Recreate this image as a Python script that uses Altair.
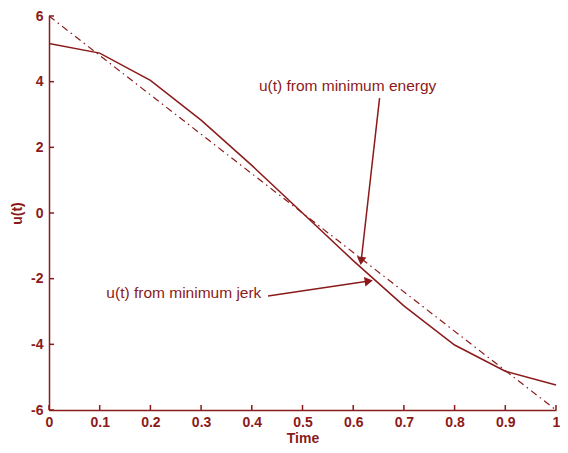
import math
import altair as alt
import pandas as pd

# ---- data ----
t = [0.0, 0.1, 0.2, 0.3, 0.4, 0.5, 0.6, 0.7, 0.8, 0.9, 1.0]
u_jerk = [5.16, 4.87, 4.04, 2.83, 1.45, 0.0, -1.45, -2.83, -4.02, -4.82, -5.24]
t_energy = [0.0, 1.0]
u_energy = [6.0, -6.0]
x_ticks = [0, 0.1, 0.2, 0.3, 0.4, 0.5, 0.6, 0.7, 0.8, 0.9, 1]
y_ticks = [-6, -4, -2, 0, 2, 4, 6]

ann_text = ["u(t) from minimum energy", "u(t) from minimum jerk"]
ann_tx = [0.589, 0.266]
ann_ty = [3.86, -2.44]
arrow_x0 = [0.652, 0.432]
arrow_y0 = [3.50, -2.53]
arrow_x1 = [0.616, 0.628]
arrow_y1 = [-1.42, -2.08]

W, H = 507, 394
RED = "#8b1a1a"
FONT = "Liberation Sans"

xs = alt.Scale(domain=[0, 1], nice=False)
ys = alt.Scale(domain=[-6, 6], nice=False)

jerk = pd.DataFrame({"t": t, "u": u_jerk})
energy = pd.DataFrame({"t": t_energy, "u": u_energy})

angles = []
for a, b, c, d in zip(arrow_x0, arrow_y0, arrow_x1, arrow_y1):
    dx = (c - a) * W
    dy = -(d - b) * H / 12.0
    angles.append(math.degrees(math.atan2(dx, -dy)) % 360)

arrows = pd.DataFrame({"x0": arrow_x0, "y0": arrow_y0, "x1": arrow_x1,
                       "y1": arrow_y1, "ang": angles})
texts = pd.DataFrame({"x": ann_tx, "y": ann_ty, "label": ann_text})

xt = pd.DataFrame({"x": x_ticks, "y0": -6, "y1": -6 + 5 * 12.0 / H})
yt = pd.DataFrame({"y": y_ticks, "x0": 0, "x1": 5.0 / W})

base_x = alt.X("t:Q", scale=xs, title="Time",
               axis=alt.Axis(values=x_ticks, ticks=False, grid=False,
                             labelExpr="datum.value == 0 ? '0' : datum.value == 1 ? '1' : format(datum.value, '.1f')"))
base_y = alt.Y("u:Q", scale=ys, title="u(t)",
               axis=alt.Axis(values=y_ticks, ticks=False, grid=False,
                             labelExpr="'' + datum.value"))

line_j = alt.Chart(jerk).mark_line(color=RED, strokeWidth=1.5).encode(x=base_x, y=base_y)
line_e = alt.Chart(energy).mark_line(color=RED, strokeWidth=1.2, strokeDash=[7, 4, 1.5, 4]).encode(
    x=alt.X("t:Q", scale=xs), y=alt.Y("u:Q", scale=ys))

xtick = alt.Chart(xt).mark_rule(color=RED, strokeWidth=1.5).encode(
    x=alt.X("x:Q", scale=xs), y=alt.Y("y0:Q", scale=ys), y2="y1:Q")
ytick = alt.Chart(yt).mark_rule(color=RED, strokeWidth=1.5).encode(
    y=alt.Y("y:Q", scale=ys), x=alt.X("x0:Q", scale=xs), x2="x1:Q")

arr_line = alt.Chart(arrows).mark_rule(color=RED, strokeWidth=1.5).encode(
    x=alt.X("x0:Q", scale=xs), y=alt.Y("y0:Q", scale=ys), x2="x1:Q", y2="y1:Q")
arr_head = alt.Chart(arrows).mark_point(shape="triangle", filled=True, color=RED,
                                        size=90, opacity=1).encode(
    x=alt.X("x1:Q", scale=xs), y=alt.Y("y1:Q", scale=ys),
    angle=alt.Angle("ang:Q", scale=None))

txt = alt.Chart(texts).mark_text(color=RED, font=FONT, fontSize=15.5, align="center",
                                 baseline="middle").encode(
    x=alt.X("x:Q", scale=xs), y=alt.Y("y:Q", scale=ys), text="label:N")

chart = alt.layer(line_e, line_j, xtick, ytick, arr_line, arr_head, txt).properties(
    width=W, height=H,
    autosize=alt.AutoSizeParams(type="none"),
    padding={"left": 41, "top": 8, "right": 4, "bottom": 35},
).configure_view(stroke=None).configure_axis(
    domainColor=RED, domainWidth=1.5, labelColor=RED, titleColor=RED,
    labelFont=FONT, titleFont=FONT, labelFontSize=14, titleFontSize=14,
    labelFontWeight="bold", titleFontWeight="bold",
).configure_axisX(labelPadding=5, titlePadding=2, labelFlush=False).configure_axisY(
    labelPadding=6, titlePadding=6, labelFlush=False)

chart.save("out.html", embed_options={"renderer": "svg", "actions": False})
